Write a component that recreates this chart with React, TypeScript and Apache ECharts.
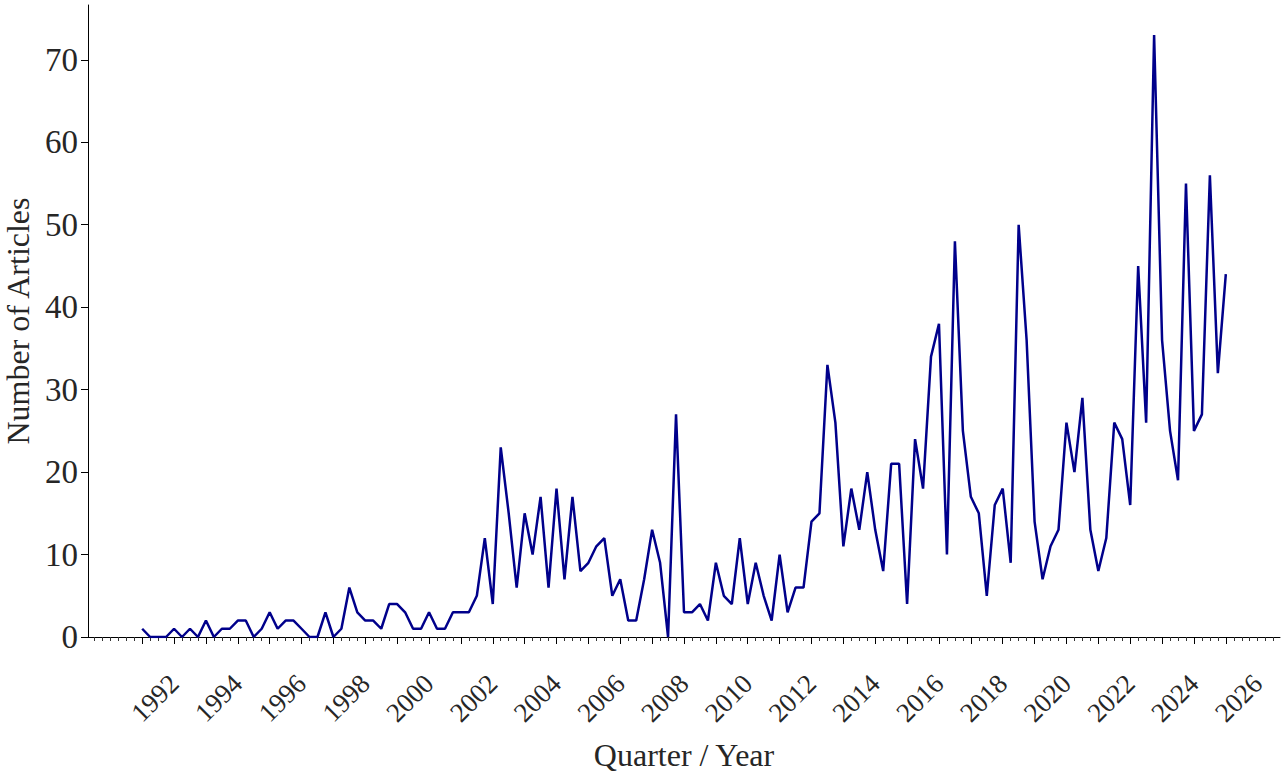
import React, { useEffect, useRef } from "react";
import * as echarts from "echarts";

// Quarterly article counts, starting 1991 Q1, one value per quarter through 2025 Q1
const FIRST_YEAR = 1991;
const ARTICLES = [
  1, 0, 0, 0, 1, 0, 1, 0, 2, 0, 1, 1, 2, 2, 0, 1, 3, 1, 2, 2,
  1, 0, 0, 3, 0, 1, 6, 3, 2, 2, 1, 4, 4, 3, 1, 1, 3, 1, 1, 3,
  3, 3, 5, 12, 4, 23, 15, 6, 15, 10, 17, 6, 18, 7, 17, 8, 9, 11, 12, 5,
  7, 2, 2, 7, 13, 9, 0, 27, 3, 3, 4, 2, 9, 5, 4, 12, 4, 9, 5, 2,
  10, 3, 6, 6, 14, 15, 33, 26, 11, 18, 13, 20, 13, 8, 21, 21, 4, 24, 18, 34,
  38, 10, 48, 25, 17, 15, 5, 16, 18, 9, 50, 36, 14, 7, 11, 13, 26, 20, 29, 13,
  8, 12, 26, 24, 16, 45, 26, 73, 36, 25, 19, 55, 25, 27, 56, 32, 44,
];

const LABEL_YEARS = [
  1992, 1994, 1996, 1998, 2000, 2002, 2004, 2006, 2008, 2010, 2012, 2014,
  2016, 2018, 2020, 2022, 2024, 2026,
];
const MAJOR_TICK_YEARS = [
  1991, 1992, 1993, 1994, 1995, 1996, 1997, 1998, 1999, 2000, 2001, 2002,
  2003, 2004, 2005, 2006, 2007, 2008, 2009, 2010, 2011, 2012, 2013, 2014,
  2015, 2016, 2017, 2018, 2019, 2020, 2021, 2022, 2023, 2024, 2025,
];
const Y_TICKS = [0, 10, 20, 30, 40, 50, 60, 70];

const X_MIN = 1989.3;
const X_MAX = 2026.7;
const Y_MAX = 76.65;

const FONT = "'Liberation Serif', 'Times New Roman', serif";
const TEXT_COLOR = "#262626";

export default function App() {
  const ref = useRef<HTMLDivElement>(null);

  useEffect(() => {
    if (!ref.current) return;
    const chart = echarts.init(ref.current, undefined, { renderer: "svg" });

    const seriesData = ARTICLES.map((v, i) => [FIRST_YEAR + i / 4, v]);
    const minorTicks: number[] = [];
    for (let q = Math.ceil(X_MIN * 4); q <= Math.floor(X_MAX * 4); q++) {
      if (q % 4 !== 0 || MAJOR_TICK_YEARS.indexOf(q / 4) < 0) minorTicks.push(q / 4);
    }

    chart.setOption({
      animation: false,
      backgroundColor: "#ffffff",
      grid: {
        left: 88,
        right: 3,
        top: 5,
        bottom: 138,
        containLabel: false,
        outerBoundsMode: "none",
      },
      xAxis: [
        {
          type: "value",
          position: "bottom",
          min: X_MIN,
          max: X_MAX,
          name: "Quarter / Year",
          nameLocation: "middle",
          nameGap: 102,
          nameTextStyle: { fontFamily: FONT, fontSize: 32, color: TEXT_COLOR },
          axisLine: { show: true, onZero: false, lineStyle: { color: "#000", width: 1 } },
          axisTick: {
            show: true,
            customValues: MAJOR_TICK_YEARS,
            length: 7,
            lineStyle: { color: "#000", width: 1 },
          },
          axisLabel: {
            customValues: LABEL_YEARS,
            rotate: 45,
            margin: 42,
            fontFamily: FONT,
            fontSize: 27,
            color: TEXT_COLOR,
            formatter: (v: number) => String(Math.round(v)),
          },
          splitLine: { show: false },
        },
        {
          type: "value",
          position: "bottom",
          min: X_MIN,
          max: X_MAX,
          axisLine: { show: false, onZero: false },
          axisTick: {
            show: true,
            customValues: minorTicks,
            length: 4,
            lineStyle: { color: "#333", width: 1 },
          },
          axisLabel: { show: false },
          splitLine: { show: false },
        },
      ],
      yAxis: {
        type: "value",
        min: 0,
        max: Y_MAX,
        name: "Number of Articles",
        nameLocation: "middle",
        nameGap: 43,
        nameTextStyle: { fontFamily: FONT, fontSize: 32, color: TEXT_COLOR },
        axisLine: { show: true, lineStyle: { color: "#000", width: 1 } },
        axisTick: {
          show: true,
          customValues: Y_TICKS,
          length: 7,
          lineStyle: { color: "#000", width: 1 },
        },
        axisLabel: {
          customValues: Y_TICKS,
          margin: 10,
          fontFamily: FONT,
          fontSize: 33,
          color: TEXT_COLOR,
        },
        splitLine: { show: false },
      },
      series: [
        {
          type: "line",
          xAxisIndex: 0,
          data: seriesData,
          showSymbol: false,
          symbol: "none",
          lineStyle: { color: "#00008B", width: 2.5 },
          itemStyle: { color: "#00008B" },
        },
      ],
    });

    return () => chart.dispose();
  }, []);

  return (
    <div
      ref={ref}
      style={{ position: "absolute", left: 0, top: 0, width: 1283, height: 775 }}
    />
  );
}
